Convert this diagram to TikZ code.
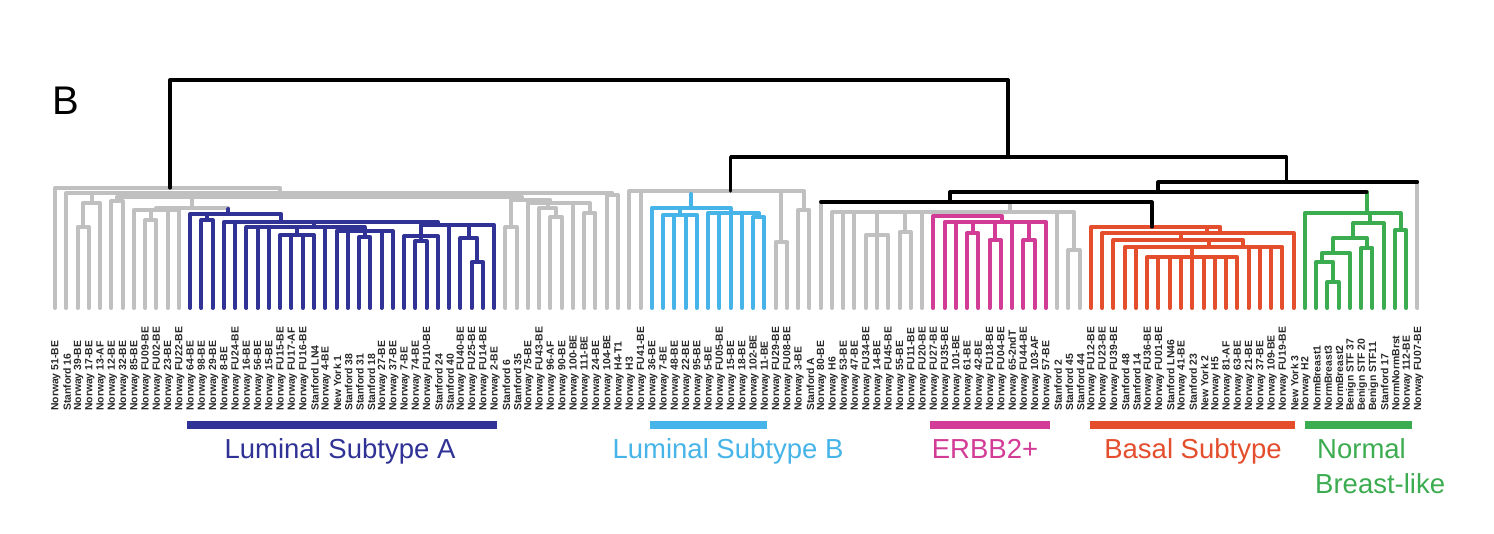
\documentclass[tikz,border=0pt]{standalone}
\usepackage{fontspec}
\setmainfont{Liberation Sans}
\definecolor{cgray}{RGB}{192,192,192}
\definecolor{clA}{RGB}{48,50,150}
\definecolor{clB}{RGB}{70,180,232}
\definecolor{cpk}{RGB}{210,60,150}
\definecolor{crd}{RGB}{228,78,45}
\definecolor{cgn}{RGB}{60,172,80}
\definecolor{ctx}{RGB}{40,40,40}
\tikzset{
 tree/.style={line width=4pt, line cap=round, line join=round},
 gr/.style={tree, draw=cgray},
 la/.style={tree, draw=clA},
 lb/.style={tree, draw=clB},
 pk/.style={tree, draw=cpk},
 rd/.style={tree, draw=crd},
 gn/.style={tree, draw=cgn},
 bk/.style={tree, draw=black, line width=3.2pt},
 leaflab/.style={rotate=90, anchor=west, inner sep=0pt, font=\fontsize{10.4}{10.4}\selectfont\bfseries, text=ctx},
 grp/.style={font=\fontsize{27.5}{27.5}\selectfont, anchor=base, inner sep=0pt},
 bar/.style={line width=7pt},
}
% node of the dendrogram: style, centre x, height, list of child x/height
\newcommand\nd[4]{\foreach \a/\b in {#4}{\draw[#1] (\a,\b) |- (#2,#3);}}
\begin{document}
\begin{tikzpicture}[x=1pt,y=-1pt]
\fill[white] (0,0) rectangle (1494,534);
\useasboundingbox (0,0) rectangle (1494,534);

\begin{scope}[x=11.26pt,y=-1pt,xshift=43.74pt]
% ---- left grey cluster
\nd{gr}{3.5}{227}{3/308,4/308}
\nd{gr}{4.25}{203}{3.5/227,5/308}
\nd{gr}{6.5}{201}{6/308,7/308}
\nd{gr}{9.5}{220}{9/308,10/308}
\nd{gr}{10}{210}{8/308,9.5/220,11/308,12/308}
\nd{gr}{13.2}{208}{10/210,16.4/214}
\nd{gr}{41.5}{227}{41/308,42/308}
\nd{gr}{45.5}{217}{45/308,46/308}
\nd{gr}{44.75}{208}{44/308,45.5/217}
\nd{gr}{48.5}{213}{48/308,49/308}
\nd{gr}{45}{203}{43/308,44.75/208,47/308,48.5/213}
\nd{gr}{42.5}{200}{41.5/227,45/203}
\nd{gr}{25}{197}{6.5/201,13.2/208,42.5/200}
\nd{gr}{50.5}{195}{50/308,51/308}
\nd{gr}{21}{193}{2/308,4.25/203,25/197,50.5/195}
\nd{gr}{11.21}{188}{1/308,21/193}
% ---- luminal A
\nd{la}{14.5}{220}{14/308,15/308}
\nd{la}{22.5}{235}{21/308,22/308,23/308,24/308}
\nd{la}{28.5}{237}{28/308,29/308}
\nd{la}{28.5}{231}{26/308,27/308,28.5/237,30/308,31/308}
\nd{la}{24}{227}{18/308,19/308,20/308,22.5/235,25/308,28.5/231}
\nd{la}{33.5}{241}{33/308,34/308}
\nd{la}{33.5}{236}{32/308,33.5/241,35/308}
\nd{la}{38.5}{262}{38/308,39/308}
\nd{la}{37.75}{238}{37/308,38.5/262}
\nd{la}{35}{225}{33.5/236,36/308,37.75/238,40/308}
\nd{la}{21.1}{222}{16/308,17/308,24/227,35/225}
\nd{la}{16.4}{214}{13/308,14.5/220,21.1/222}
\draw[la] (16.4,214) -- (16.4,209);
% ---- luminal B
\nd{gr}{65.5}{242}{65/308,66/308}
\nd{gr}{67.5}{210}{67/308,68/308}
\nd{gr}{61}{191}{52/308,53/308,57.5/208,65.5/242,67.5/210}
\nd{lb}{56.5}{215}{55/308,56/308,57/308,58/308}
\nd{lb}{63.5}{217}{63/308,64/308}
\nd{lb}{61}{213}{59/308,60/308,61/308,62/308,63.5/217}
\nd{lb}{57.5}{208}{54/308,56.5/215,61/213}
\draw[lb] (57.5,208) -- (57.5,194);
% ---- ERBB2 side
\nd{gr}{74}{235}{73/308,74/308,75/308}
\nd{gr}{76.5}{232}{76/308,77/308}
\nd{gr}{91.5}{250}{91/308,92/308}
\nd{gr}{85.8}{212}{70/308,71/308,72/308,74/235,76.5/232,78/308,82/216,90/308,91.5/250}
\nd{pk}{82.5}{233}{82/308,83/308}
\nd{pk}{84.5}{240}{84/308,85/308}
\nd{pk}{87.5}{240}{87/308,88/308}
\nd{pk}{85.1}{222}{80/308,81/308,82.5/233,84.5/240,86/308,87.5/240,89/308}
\nd{pk}{82}{216}{79/308,85.1/222}
% ---- basal
\nd{rd}{102}{257}{98/308,99/308,100/308,101/308,102/308,103/308,104/308,105/308,106/308}
\nd{rd}{103.5}{247}{96/308,97/308,102/257,107/308,108/308,109/308,110/308}
\nd{rd}{101}{240}{95/308,103.5/247,106.5/247}
\nd{rd}{103.3}{233}{94/308,101/240,111/308}
\nd{rd}{98.42}{227}{93/308,103.3/233,104.5/233}
% ---- normal breast-like
\nd{gn}{114.5}{282}{114/308,115/308}
\nd{gn}{113.5}{262}{113/308,114.5/282}
\nd{gn}{114.5}{253}{113.5/262,116/308}
\nd{gn}{117.5}{248}{117/308,118/308}
\nd{gn}{116.3}{238}{114.5/253,117.5/248}
\nd{gn}{117.8}{223}{116.3/238,119/308}
\nd{gn}{120.5}{230}{120/308,121/308}
\nd{gn}{117.5}{213}{112/308,117.8/223,120.5/230}
% ---- upper black tree
\draw[gr] (69,308) -- (69,202);
\draw[gr] (85.8,212) -- (85.8,202);
\draw[gr] (122,308) -- (122,182);
\draw[bk] (98.42,227) |- (69,202);
\draw[gn] (117.5,213) -- (117.5,192);
\draw[bk] (80.48,202) |- (117.5,192);
\draw[bk] (98.96,192) |- (122,182);
\draw[bk] (61,191) |- (110.4,157) -- (110.4,182);
\draw[bk] (11.21,188) |- (85.64,80) -- (85.64,157);
\end{scope}

% ---- leaf labels
\foreach \t [count=\i] in {Norway 51-BE,Stanford 16,Norway 39-BE,Norway 17-BE,Norway 13-AF,Norway 12-BE,Norway 32-BE,Norway 85-BE,Norway FU09-BE,Norway FU02-BE,Norway 23-BE,Norway FU22-BE,Norway 64-BE,Norway 98-BE,Norway 29-BE,Norway 8-BE,Norway FU24-BE,Norway 16-BE,Norway 56-BE,Norway 15-BE,Norway FU15-BE,Norway FU17-AF,Norway FU16-BE,Stanford LN4,Norway 4-BE,New York 1,Stanford 38,Stanford 31,Stanford 18,Norway 27-BE,Norway 37-BE,Norway 7-BE,Norway 74-BE,Norway FU10-BE,Stanford 24,Stanford 40,Norway FU40-BE,Norway FU25-BE,Norway FU14-BE,Norway 2-BE,Stanford 6,Stanford 35,Norway 75-BE,Norway FU43-BE,Norway 96-AF,Norway 90-BE,Norway 100-BE,Norway 111-BE,Norway 24-BE,Norway 104-BE,Norway H4-T1,Norway H3,Norway FU41-BE,Norway 36-BE,Norway 7-BE,Norway 48-BE,Norway 22-BE,Norway 95-BE,Norway 5-BE,Norway FU05-BE,Norway 15-BE,Norway 18-BE,Norway 102-BE,Norway 11-BE,Norway FU29-BE,Norway FU08-BE,Norway 3-BE,Stanford A,Norway 80-BE,Norway H6,Norway 53-BE,Norway 47-BE,Norway FU34-BE,Norway 14-BE,Norway FU45-BE,Norway 55-BE,Norway FU11-BE,Norway FU20-BE,Norway FU27-BE,Norway FU35-BE,Norway 101-BE,Norway 61-BE,Norway 42-BE,Norway FU18-BE,Norway FU04-BE,Norway 65-2ndT,Norway FU44-BE,Norway 103-AF,Norway 57-BE,Stanford 2,Stanford 45,Stanford 44,Norway FU12-BE,Norway FU23-BE,Norway FU39-BE,Stanford 48,Stanford 14,Norway FU36-BE,Norway FU01-BE,Stanford LN46,Norway 41-BE,Stanford 23,New York 2,Norway H5,Norway 81-AF,Norway 63-BE,Norway 21-BE,Norway 37-BE,Norway 109-BE,Norway FU19-BE,New York 3,Norway H2,NormBreast1,NormBreast3,NormBreast2,Benign STF 37,Benign STF 20,Benign STF11,Stanford 17,NormNormBrst,Norway 112-BE,Norway FU07-BE}
  {\node[leaflab] (lab\i) at ({44.74+11.26*\i},411) {\t};}

% ---- subtype bars and names
\draw[clA, bar] (187,425) -- (497,425);
\draw[clB, bar] (650,425) -- (767,425);
\draw[cpk, bar] (930,425) -- (1050,425);
\draw[crd, bar] (1090,425) -- (1295,425);
\draw[cgn, bar] (1305,425) -- (1412,425);
\node[grp, text=clA] (tA) at (340,458) {Luminal Subtype A};
\node[grp, text=clB] (tB) at (728,458) {Luminal Subtype B};
\node[grp, text=cpk] (tE) at (985,458) {ERBB2+};
\node[grp, text=crd] (tBa) at (1193,458) {Basal Subtype};
\node[grp, text=cgn, anchor=base west] (tN) at (1317,458) {Normal};
\node[grp, text=cgn, anchor=base west] (tN2) at (1315,493) {Breast-like};
\node[font=\fontsize{40}{40}\selectfont, anchor=base west, inner sep=0pt] (panel) at (52,115) {B};
\end{tikzpicture}
\end{document}
